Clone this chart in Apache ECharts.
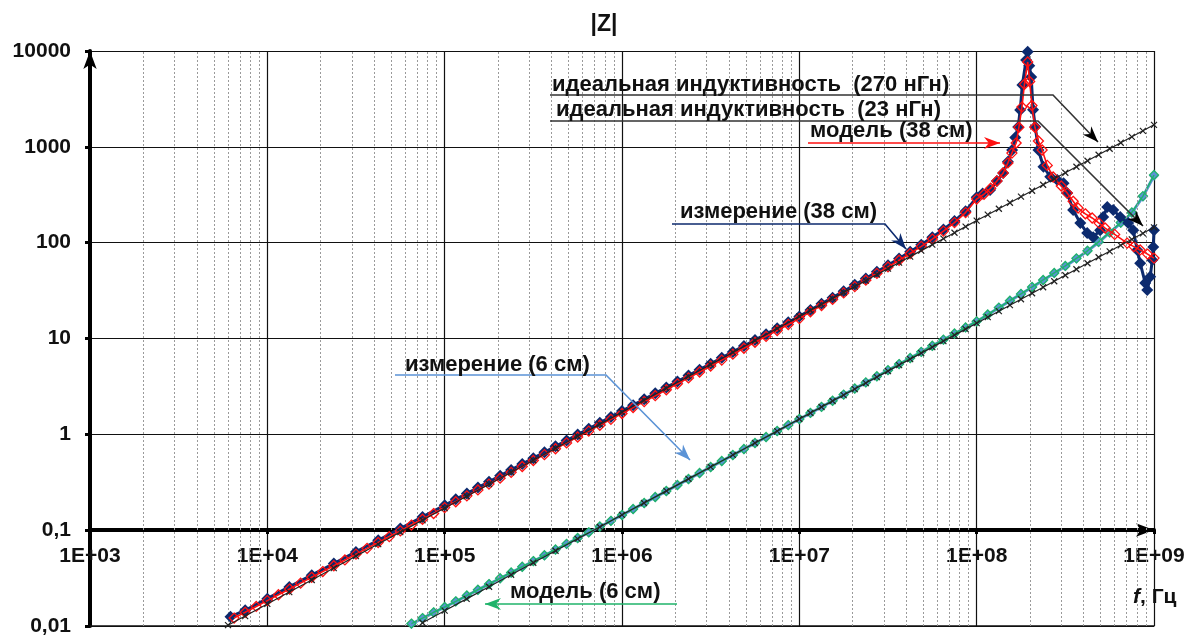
<!DOCTYPE html>
<html><head><meta charset="utf-8">
<script src="https://cdn.jsdelivr.net/npm/echarts@6/dist/echarts.min.js"></script>
<style>html,body{margin:0;padding:0;background:#fff}#c{width:1190px;height:637px}</style>
</head><body><div id="c"></div>
<script>
// ---------- DATA ----------
const f38meas = [6.2e3,7.5e3,1e4,1.33e4,1.78e4,2.37e4,3.16e4,4.22e4,5.62e4,7.5e4,
 1e5,1.155e5,1.334e5,1.54e5,1.778e5,2.054e5,2.371e5,2.738e5,3.162e5,3.652e5,4.217e5,4.87e5,5.623e5,6.494e5,7.499e5,8.66e5,
 1e6,1.155e6,1.334e6,1.54e6,1.778e6,2.054e6,2.371e6,2.738e6,3.162e6,3.652e6,4.217e6,4.87e6,5.623e6,6.494e6,7.499e6,8.66e6,
 1e7,1.155e7,1.334e7,1.54e7,1.778e7,2.054e7,2.371e7,2.738e7,3.162e7,3.652e7,4.217e7,4.87e7,5.623e7,6.494e7,7.499e7,8.66e7,
 1e8,1.08e8,1.19e8,1.3e8,1.41e8,1.5e8,1.585e8,1.65e8,1.714e8,1.76e8,1.81e8,1.9e8,1.94e8,1.98e8,2.03e8,2.08e8,2.14e8,2.23e8,2.38e8,2.6e8,2.85e8,3.09e8,3.24e8,3.5e8,3.84e8,4.2e8,4.54e8,4.97e8,5.17e8,5.45e8,5.89e8,6.45e8,7.15e8,7.64e8,8.04e8,8.36e8,8.92e8,9.16e8,9.52e8,9.78e8,9.9e8,1e9];
const z38meas = [0.0125,0.0146,0.0193,0.0256,0.0339,0.0448,0.0593,0.0785,0.104,0.1375,
 0.182,0.2096,0.2415,0.278,0.3204,0.369,0.425,0.490,0.564,0.650,0.749,0.862,0.994,1.144,1.318,1.519,
 1.75,2.017,2.325,2.68,3.089,3.56,4.104,4.73,5.452,6.284,7.243,8.349,9.623,11.09,12.78,14.74,
 17.0,19.8,23.0,26.7,31.1,36.3,42.3,49.8,58.1,68.3,80.3,95.2,113.8,137,168,213,
 297,325,354,440,533,700,926,1250,1610,2420,4420,8060,9800,7000,5350,2440,1620,927,620,487,450,416,329,219,160,126,114,135,185,235,219,185,160,135,84,61,38,32,44,66,90,135];

const f38model = [6.494e3,7.499e3,8.66e3,1e4,1.155e4,1.334e4,1.54e4,1.778e4,2.054e4,2.371e4,2.738e4,3.162e4,3.652e4,4.217e4,4.87e4,5.623e4,6.494e4,7.499e4,8.66e4,
 1e5,1.155e5,1.334e5,1.54e5,1.778e5,2.054e5,2.371e5,2.738e5,3.162e5,3.652e5,4.217e5,4.87e5,5.623e5,6.494e5,7.499e5,8.66e5,
 1e6,1.155e6,1.334e6,1.54e6,1.778e6,2.054e6,2.371e6,2.738e6,3.162e6,3.652e6,4.217e6,4.87e6,5.623e6,6.494e6,7.499e6,8.66e6,
 1e7,1.155e7,1.334e7,1.54e7,1.778e7,2.054e7,2.371e7,2.738e7,3.162e7,3.652e7,4.217e7,4.87e7,5.623e7,6.494e7,7.499e7,8.66e7,
 1e8,1.1e8,1.2e8,1.3e8,1.41e8,1.5e8,1.58e8,1.67e8,1.73e8,1.8e8,1.86e8,1.94e8,1.99e8,2.05e8,2.13e8,2.23e8,2.34e8,2.5e8,2.7e8,3.0e8,3.24e8,3.5e8,3.73e8,4.1e8,4.48e8,4.9e8,5.3e8,6.0e8,7.06e8,7.7e8,8.36e8,9.2e8,1e9];
const z38model = [0.0121,0.0139,0.0160,0.0184,0.0212,0.0243,0.0280,0.0322,0.0370,0.0425,0.0489,0.0562,0.0646,0.0743,0.0855,0.0983,0.113,0.130,0.149,
 0.172,0.198,0.228,0.263,0.3025,0.3485,0.401,0.462,0.533,0.614,0.707,0.814,0.938,1.080,1.244,1.433,
 1.651,1.904,2.195,2.531,2.919,3.366,3.881,4.475,5.160,5.950,6.861,7.912,9.123,10.52,12.13,13.99,
 16.13,19.0,22.1,25.6,29.9,34.8,40.6,47.8,55.8,65.6,77.1,91.4,109,132,162,206,
 285,320,370,440,533,680,860,1096,1600,2600,4500,7680,4800,2700,1600,1150,927,640,484,390,329,270,230,200,181,160,142,122,99,91,84,76,69];

const f6 = [6.494e4,7.499e4,8.66e4,
 1e5,1.155e5,1.334e5,1.54e5,1.778e5,2.054e5,2.371e5,2.738e5,3.162e5,3.652e5,4.217e5,4.87e5,5.623e5,6.494e5,7.499e5,8.66e5,
 1e6,1.155e6,1.334e6,1.54e6,1.778e6,2.054e6,2.371e6,2.738e6,3.162e6,3.652e6,4.217e6,4.87e6,5.623e6,6.494e6,7.499e6,8.66e6,
 1e7,1.155e7,1.334e7,1.54e7,1.778e7,2.054e7,2.371e7,2.738e7,3.162e7,3.652e7,4.217e7,4.87e7,5.623e7,6.494e7,7.499e7,8.66e7,
 1e8,1.155e8,1.334e8,1.54e8,1.778e8,2.054e8,2.371e8,2.738e8,3.162e8,3.652e8,4.217e8,4.87e8,5.623e8,6.494e8,7.499e8,8.66e8,1e9];
const z6meas = [0.0105,0.0120,0.0138,
 0.0157,0.0180,0.0207,0.0238,0.0273,0.0313,0.0360,0.0413,0.0474,0.0544,0.0625,0.0717,0.0824,0.0946,0.1086,0.1247,
 0.1435,0.1657,0.1914,0.221,0.2553,0.2948,0.3405,0.3933,0.4542,0.5246,0.6059,0.6998,0.8083,0.9335,1.078,1.245,
 1.438,1.665,1.928,2.233,2.586,2.995,3.468,4.016,4.651,5.386,6.237,7.223,8.365,9.687,11.22,12.99,
 15.0,17.7,20.9,24.7,29.1,34.3,40.6,48.0,56.8,68.1,81.7,101,127,160,204,302,500];
const z6model = [0.0106,0.0121,0.0139,
 0.0158,0.0181,0.0208,0.0239,0.0274,0.0315,0.0362,0.0415,0.0476,0.0547,0.0628,0.0720,0.0828,0.0950,0.1091,0.1252,
 0.1441,0.1664,0.1922,0.222,0.2564,0.2960,0.3419,0.3949,0.4561,0.5268,0.6084,0.7027,0.8116,0.9373,1.083,1.250,
 1.444,1.672,1.936,2.242,2.597,3.007,3.482,4.033,4.670,5.408,6.263,7.253,8.40,9.73,11.27,13.05,
 15.1,17.8,21.0,24.8,29.2,34.5,40.8,48.3,57.2,68.6,82.3,102,128,162,207,306,508];

const fIdeal270 = [6.0e3,7.5e3,1e4,1.33e4,1.78e4,2.37e4,3.16e4,4.22e4,5.62e4,7.5e4,
 1e5,1.33e5,1.78e5,2.37e5,3.16e5,4.22e5,5.62e5,7.5e5,1e6,1.33e6,1.78e6,2.37e6,3.16e6,4.22e6,5.62e6,7.5e6,
 1e7,1.155e7,1.334e7,1.54e7,1.778e7,2.054e7,2.371e7,2.738e7,3.162e7,3.652e7,4.217e7,4.87e7,5.623e7,6.494e7,7.499e7,8.66e7,
 1e8,1.155e8,1.334e8,1.54e8,1.778e8,2.054e8,2.371e8,2.738e8,3.162e8,3.652e8,4.217e8,4.87e8,5.623e8,6.494e8,7.499e8,8.66e8,1e9];
const zIdeal270 = [0.0102,0.0127,0.0170,0.0226,0.0302,0.0402,0.0536,0.0716,0.0954,0.127,
 0.170,0.226,0.302,0.402,0.536,0.716,0.954,1.27,1.70,2.26,3.02,4.02,5.36,7.16,9.54,12.7,
 17.0,19.6,22.6,26.1,30.2,34.8,40.2,46.5,53.6,62.0,71.5,82.6,95.4,110,127,147,
 170,196,226,261,302,348,402,465,536,620,715,826,954,1102,1272,1469,1697];
const fIdeal23 = [7.5e4,1e5,1.33e5,1.78e5,2.37e5,3.16e5,4.22e5,5.62e5,7.5e5,1e6,1.33e6,1.78e6,2.37e6,3.16e6,4.22e6,5.62e6,7.5e6,
 1e7,1.155e7,1.334e7,1.54e7,1.778e7,2.054e7,2.371e7,2.738e7,3.162e7,3.652e7,4.217e7,4.87e7,5.623e7,6.494e7,7.499e7,8.66e7,
 1e8,1.155e8,1.334e8,1.54e8,1.778e8,2.054e8,2.371e8,2.738e8,3.162e8,3.652e8,4.217e8,4.87e8,5.623e8,6.494e8,7.499e8,8.66e8,1e9];
const zIdeal23 = [0.0108,0.01445,0.0192,0.0257,0.0343,0.0457,0.0610,0.0812,0.108,0.1445,0.192,0.257,0.343,0.457,0.610,0.812,1.08,
 1.445,1.669,1.928,2.226,2.569,2.968,3.426,3.957,4.569,5.278,6.094,7.038,8.126,9.385,10.84,12.52,
 14.45,16.69,19.28,22.26,25.69,29.68,34.26,39.57,45.69,52.78,60.94,70.38,81.26,93.85,108.4,125.2,144.5];

const labels = {
  title: '|Z|',
  l270: 'идеальная индуктивность  (270 нГн)',
  l23: 'идеальная индуктивность  (23 нГн)',
  model38: 'модель (38 см)',
  meas38: 'измерение (38 см)',
  meas6: 'измерение (6 см)',
  model6: 'модель (6 см)'
};

// ---------- CHART ----------
const pairs = (f, z) => f.map((v, i) => [v, z[i]]);
const minorX = [];
for (let e = 3; e < 9; e++) for (let m = 2; m <= 9; m++) minorX.push({ xAxis: m * Math.pow(10, e) });

const FONT = '"Liberation Sans", Arial, sans-serif';
const C = {navy:'#0c2a6e', red:'#ff1010', lblue:'#5b93d6', green:'#1fb36a', black:'#111'};
const crossPath = 'path://M0,0L10,10M0,10L10,0';

function arrowHead(tip, from, len, hw) {
  const dx = tip[0]-from[0], dy = tip[1]-from[1];
  const d = Math.sqrt(dx*dx+dy*dy), ux = dx/d, uy = dy/d;
  const bx = tip[0]-ux*len, by = tip[1]-uy*len;
  return [tip, [bx - uy*hw, by + ux*hw], [tip[0]-ux*len*0.7, tip[1]-uy*len*0.7], [bx + uy*hw, by - ux*hw]];
}
function annot(text, tx, ty, pts, color, headColor) {
  const last = pts[pts.length-1], prev = pts[pts.length-2];
  return [
    {type:'polyline', z:100, shape:{points:pts}, style:{stroke:color, lineWidth:1.6, fill:null}},
    {type:'polygon', z:100, shape:{points:arrowHead(last, prev, 16, 6)}, style:{fill:headColor||color}},
    {type:'text', z:101, style:{x:tx, y:ty, text:text, font:'bold 22px '+FONT, fill:'#111',
      verticalAlign:'middle', textVerticalAlign:'middle'}}
  ];
}

const chart = echarts.init(document.getElementById('c'), null, {renderer:'canvas'});
const axLabelFont = {fontFamily: FONT, fontWeight:'bold', fontSize:21, color:'#111'};
chart.setOption({
  animation:false,
  backgroundColor:'#fff',
  grid:[{left:90, right:36, top:51, bottom:11}, {left:90, right:36, top:51, bottom:107}],
  xAxis:[
    {type:'log', gridIndex:0, min:1e3, max:1e9, logBase:10, splitNumber:6,
     axisLine:{show:true, lineStyle:{color:'#111', width:1.5}}, axisTick:{show:false}, axisLabel:{show:false},
     splitLine:{show:true, lineStyle:{color:'#111', width:1.2}}},
    {type:'log', gridIndex:1, min:1e3, max:1e9, logBase:10, splitNumber:6, position:'bottom',
     axisLine:{show:true, symbol:['none','arrow'], symbolSize:[10,18], lineStyle:{color:'#000', width:4}},
     axisTick:{show:true, length:4, lineStyle:{color:'#000', width:3}},
     axisLabel:Object.assign({margin:16, formatter:v => '1E+' + String(Math.round(Math.log10(v))).padStart(2,'0')}, axLabelFont),
     splitLine:{show:false}}
  ],
  yAxis:[
    {type:'log', gridIndex:0, min:0.01, max:10000, logBase:10, splitNumber:6,
     axisLine:{show:true, symbol:['none','arrow'], symbolSize:[10,18], lineStyle:{color:'#000', width:4}},
     axisTick:{show:true, length:5, lineStyle:{color:'#000', width:3}},
     axisLabel:Object.assign({margin:19, formatter:v => { const e = Math.round(Math.log10(v)); return e >= 0 ? String(Math.pow(10,e)) : '0,' + '0'.repeat(-e-1) + '1'; }}, axLabelFont),
     splitLine:{show:true, lineStyle:{color:'#111', width:1.2}}},
    {type:'log', gridIndex:1, min:0.1, max:10000, show:false}
  ],
  series:[
    {type:'line', xAxisIndex:0, yAxisIndex:0, data:[], silent:true, z:1,
     markLine:{silent:true, symbol:['none','none'], label:{show:false}, animation:false,
       lineStyle:{color:'#9a9a9a', type:[2,2], width:1}, data:minorX}},
    {name:labels.meas6, type:'line', data:pairs(f6, z6meas), symbol:'diamond', symbolSize:10, z:3,
     itemStyle:{color:C.lblue}, lineStyle:{color:C.lblue, width:3}},
    {name:labels.model6, type:'line', data:pairs(f6, z6model), symbol:'diamond', symbolSize:9, z:4,
     itemStyle:{color:'rgba(0,0,0,0)', borderColor:C.green, borderWidth:1.3}, lineStyle:{color:C.green, width:1.5}},
    {name:labels.meas38, type:'line', data:pairs(f38meas, z38meas), symbol:'diamond', symbolSize:12, z:5,
     itemStyle:{color:C.navy}, lineStyle:{color:C.navy, width:3}},
    {name:labels.model38, type:'line', data:pairs(f38model, z38model), symbol:'diamond', symbolSize:10, z:6,
     itemStyle:{color:'rgba(0,0,0,0)', borderColor:C.red, borderWidth:1.3}, lineStyle:{color:C.red, width:1.6}},
    {name:labels.l270, type:'line', data:pairs(fIdeal270, zIdeal270), symbol:crossPath, symbolSize:6, z:7,
     itemStyle:{color:'rgba(0,0,0,0)', borderColor:'#222', borderWidth:1.2}, lineStyle:{color:'#222', width:1.2}},
    {name:labels.l23, type:'line', data:pairs(fIdeal23, zIdeal23), symbol:crossPath, symbolSize:6, z:7,
     itemStyle:{color:'rgba(0,0,0,0)', borderColor:'#222', borderWidth:1.2}, lineStyle:{color:'#222', width:1.2}}
  ],
  graphic:[].concat(
    [{type:'text', z:101, style:{x:604, y:25, text:labels.title, font:'bold 23px '+FONT, fill:'#111',
      align:'center', textAlign:'center', verticalAlign:'middle', textVerticalAlign:'middle'}},
     {type:'text', z:101, style:{x:1133, y:597, text:'{i|f}{b|, Гц}', fill:'#111',
      verticalAlign:'middle', textVerticalAlign:'middle',
      rich:{i:{font:'italic bold 21px '+FONT, fill:'#111'}, b:{font:'bold 21px '+FONT, fill:'#111'}}}}],
    annot(labels.l270, 552, 85, [[550,95],[1053,95],[1098,142]], '#333', '#000'),
    annot(labels.l23, 556, 110, [[550,121],[1038,121],[1143,226]], '#333', '#000'),
    annot(labels.model38, 810, 131, [[808,143],[1000,143]], C.red),
    annot(labels.meas38, 680, 212, [[672,224],[885,224],[906,249]], C.navy),
    annot(labels.meas6, 405, 365, [[395,375],[606,375],[690,460]], C.lblue),
    annot(labels.model6, 510, 592, [[677,604],[485,604]], C.green)
  )
});
</script></body></html>
